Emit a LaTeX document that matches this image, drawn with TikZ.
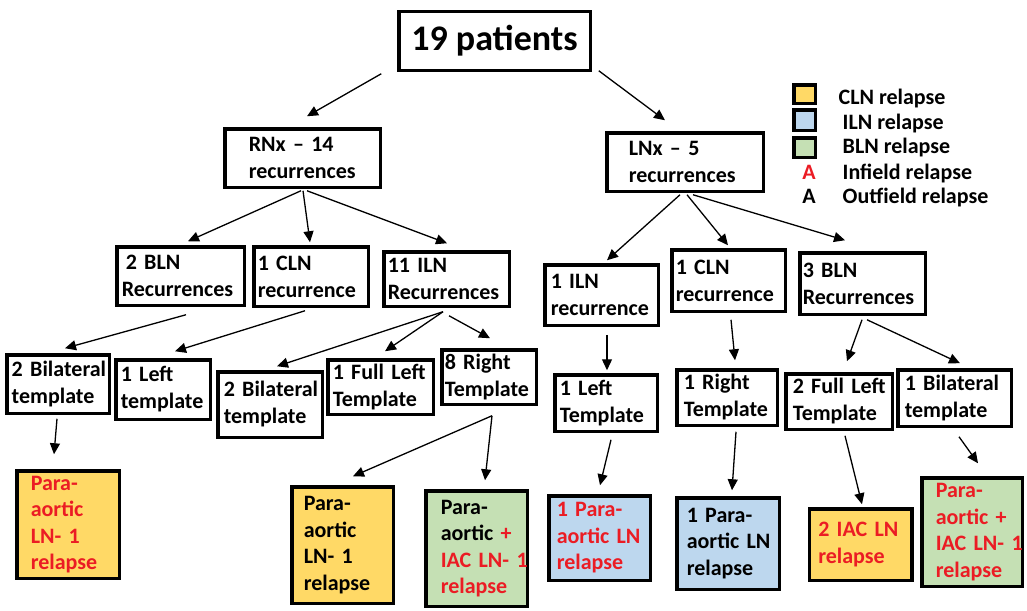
\documentclass[tikz,border=0pt]{standalone}
\usepackage{fontspec}
\setmainfont{Carlito}
\usetikzlibrary{arrows.meta,calc}

\definecolor{clnfill}{RGB}{255,217,102}
\definecolor{ilnfill}{RGB}{189,215,238}
\definecolor{blnfill}{RGB}{197,224,180}
\definecolor{relred}{RGB}{235,28,36}

\tikzset{
	box/.style={draw, line width=3.5pt, align=left, inner ysep=0pt, font=\bfseries\fontsize{22}{27}\selectfont,
		execute at begin node={\hyphenpenalty=10000\exhyphenpenalty=10000}},
	relbox/.style={box, font=\bfseries\fontsize{22}{26.5}\selectfont},
	legsq/.style={draw, line width=3.5pt, minimum width=21.5pt, inner sep=0pt},
	legtxt/.style={anchor=base west, inner sep=0pt, font=\bfseries\fontsize{22}{27}\selectfont},
}

\begin{document}
\begin{tikzpicture}[x=1pt, y=-1pt, >={Triangle[length=11pt,width=10pt]}, line width=1.3pt]
	\useasboundingbox (0,0) rectangle (1027,610);
	
	% ==================== Level 1 ====================
	\node[box, align=center, font=\bfseries\fontsize{36}{40}\selectfont, minimum width=191.5pt, minimum height=58.5pt] (top) at (494.5,41) {19 patients};
	
	\node[box, inner xsep=24pt, text width=107.5pt, minimum height=58.5pt] (rnx) at (302.5,158) {RNx~–~14\\recurrences};
	\node[box, inner xsep=22pt, text width=112.5pt, minimum height=58.5pt] (lnx) at (685,162) {LNx~–~5\\recurrences};
	
	\draw[->] ($(top.south west)+(-15.75,1.75)$) -- ($(rnx.north)+(4.5,-10.75)$);
	\draw[->] ($(top.south east)+(6.75,-1.25)$) -- ($(lnx.north)+(-20,-10.75)$);
	
	% ==================== Legend ====================
	\node[legsq, fill=clnfill, minimum height=18.5pt] (lgcln) at (804.5,94) {};
	\node[legsq, fill=ilnfill, minimum height=20.5pt] (lgiln) at (804.5,120) {};
	\node[legsq, fill=blnfill, minimum height=19.5pt] (lgbln) at (804.5,147.5) {};
	\node[legtxt] (lgclntxt) at (838,104.3) {CLN relapse};
	\node[legtxt] (lgilntxt) at (842,129.3) {ILN relapse};
	\node[legtxt] (lgblntxt) at (842,153.3) {BLN relapse};
	\node[legtxt, anchor=base, text=relred] (lgina) at (809,179.3) {A};
	\node[legtxt] (lgintxt) at (842,179.3) {Infield relapse};
	\node[legtxt, anchor=base] (lgouta) at (809,203.3) {A};
	\node[legtxt] (lgouttxt) at (842,203.3) {Outfield relapse};
	
	% ==================== RNx branch ====================
	\node[box, inner xsep=5pt, text width=117.5pt, minimum height=58.5pt] (bln2) at (180.5,276) {\hspace*{4pt}2~BLN\\Recurrences};
	\node[box, inner xsep=4pt, text width=106.5pt, minimum height=59.5pt] (cln1) at (311,276.5) {1~CLN\\recurrence};
	\node[box, inner xsep=4pt, text width=117.5pt, minimum height=54.5pt] (iln11) at (446.5,279) {11~ILN\\Recurrences};
	
	\draw[->] ($(rnx.south)+(-1.5,1.75)$) -- ($(bln2.north)+(7.5,-3.75)$);
	\draw[->] ($(rnx.south)+(0.5,1.75)$) -- ($(cln1.north)+(-1,-2.75)$);
	\draw[->] ($(rnx.south)+(4.5,1.75)$) -- ($(iln11.north)+(0.5,-6.75)$);
	
	% templates
	\node[box, inner xsep=5pt, text width=92.5pt, minimum height=58.5pt] (bil2a) at (58,384) {2~Bilateral\\template};
	\node[box, inner xsep=5pt, text width=84.5pt, minimum height=59.5pt] (left1) at (163,389.5) {1~Left\\template};
	\node[box, inner xsep=6pt, text width=92.5pt, minimum height=65.5pt] (bil2b) at (270,404.5) {2~Bilateral\\template};
	\node[box, inner xsep=5pt, text width=95.5pt, minimum height=54.5pt] (fleft1) at (380.5,387) {1~Full~Left\\Template};
	\node[box, inner xsep=3pt, text width=88.5pt, minimum height=54.5pt] (right8) at (489,377) {8~Right\\Template};
	
	\draw[->] ($(bln2.south)+(5.5,7.75)$) -- ($(bil2a.north)+(7,-4.75)$);
	\draw[->] ($(cln1.south)+(-6,2.75)$) -- ($(left1.north)+(12,-6.75)$);
	\draw[->] ($(iln11.south)+(-3.5,3.75)$) -- ($(bil2b.north)+(7,-3.75)$);
	\draw[->] ($(iln11.south)+(-3.5,3.75)$) -- ($(fleft1.north)+(4.5,-6.75)$);
	\draw[->] ($(iln11.south)+(2.5,7.75)$) -- ($(right8.north)+(1,-9.75)$);
	
	% relapses
	\node[relbox, fill=clnfill, text=relred, inner xsep=14pt, text width=74.5pt, minimum height=107.5pt] (pa1) at (68,524.5) {Para-\\aortic\\LN-~1\\relapse};
	\node[relbox, fill=clnfill, inner xsep=12pt, text width=77.5pt, minimum height=116.5pt] (pa2) at (342.5,545) {Para-\\aortic\\LN-~1\\relapse};
	\node[relbox, fill=blnfill, inner xsep=15pt, text width=71.5pt, minimum height=115.5pt] (pa3) at (476.5,548.5) {Para-\\aortic~{\color{relred}+}\\{\color{relred}IAC~LN-~1}\\{\color{relred}relapse}};
	
	\draw[->] ($(bil2a.south)+(-1,3.75)$) -- ($(pa1.north)+(-14,-14.75)$);
	\draw[->] ($(right8.south)+(3,9.75)$) -- ($(pa2.north)+(10.5,-8.75)$);
	\draw[->] ($(right8.south)+(3,9.75)$) -- ($(pa3.north)+(8.5,-8.75)$);
	
	% ==================== LNx branch ====================
	\node[box, inner xsep=6pt, text width=101.5pt, minimum height=60.5pt] (iln1r) at (601.5,295) {1~ILN\\recurrence};
	\node[box, inner xsep=4pt, text width=105.5pt, minimum height=61.5pt] (cln1r) at (728.5,280.5) {1~CLN\\recurrence};
	\node[box, inner xsep=3pt, text width=119.5pt, minimum height=61.5pt] (bln3) at (862.5,283.5) {3~BLN\\Recurrences};
	
	\draw[->] ($(lnx.south)+(-5,1.75)$) -- ($(iln1r.north)+(5.5,-2.75)$);
	\draw[->] ($(lnx.south)+(2,1.75)$) -- ($(cln1r.north)+(-0.5,-2.75)$);
	\draw[->] ($(lnx.south)+(8,1.75)$) -- ($(bln3.north)+(-17.5,-10.75)$);
	
	% templates
	\node[box, inner xsep=5pt, text width=92.5pt, minimum height=56.5pt] (left1r) at (606,403) {1~Left\\Template};
	\node[box, inner xsep=7pt, text width=86.5pt, minimum height=55.5pt] (right1) at (727,397.5) {1~Right\\Template};
	\node[box, inner xsep=7pt, text width=92.5pt, minimum height=55.5pt] (fleft2) at (839,401.5) {2~Full~Left\\Template};
	\node[box, inner xsep=7pt, text width=99.5pt, minimum height=56.5pt] (bil1) at (954.5,398) {1~Bilateral\\template};
	
	\draw[->] ($(iln1r.south)+(5.5,7.75)$) -- ($(left1r.north)+(1,-2.75)$);
	\draw[->] ($(cln1r.south)+(2.5,6.75)$) -- ($(right1.north)+(8,-7.75)$);
	\draw[->] ($(bln3.south)+(-0.5,3.75)$) -- ($(fleft2.north)+(8,-10.75)$);
	\draw[->] ($(bln3.south)+(4.5,3.75)$) -- ($(bil1.north)+(5.5,-4.75)$);
	
	% relapses
	\node[relbox, fill=ilnfill, text=relred, inner xsep=8pt, text width=85.5pt, minimum height=84.5pt] (pa4) at (599.5,538) {1~Para-\\aortic~LN\\relapse};
	\node[relbox, fill=ilnfill, inner xsep=10pt, text width=82.5pt, minimum height=91.5pt] (pa5) at (728,543.5) {1~Para-\\aortic~LN\\relapse};
	\node[relbox, fill=clnfill, text=relred, inner xsep=9pt, text width=84.5pt, minimum height=71.5pt] (iac2) at (860.5,544.5) {2~IAC~LN\\relapse};
	\node[relbox, fill=blnfill, text=relred, inner xsep=14pt, text width=72.5pt, minimum height=108.5pt] (pa6) at (972,532) {Para-\\aortic~+\\IAC~LN-~1\\relapse};
	
	\draw[->] ($(left1r.south)+(5,6.75)$) -- ($(pa4.north)+(0.5,-8.75)$);
	\draw[->] ($(right1.south)+(9,4.75)$) -- ($(pa5.north)+(4,-5.75)$);
	\draw[->] ($(fleft2.south)+(6,4.75)$) -- ($(iac2.north)+(1.5,-2.75)$);
	\draw[->] ($(bil1.south)+(4.5,8.75)$) -- ($(pa6.north)+(6,-12.75)$);
\end{tikzpicture}
\end{document}
